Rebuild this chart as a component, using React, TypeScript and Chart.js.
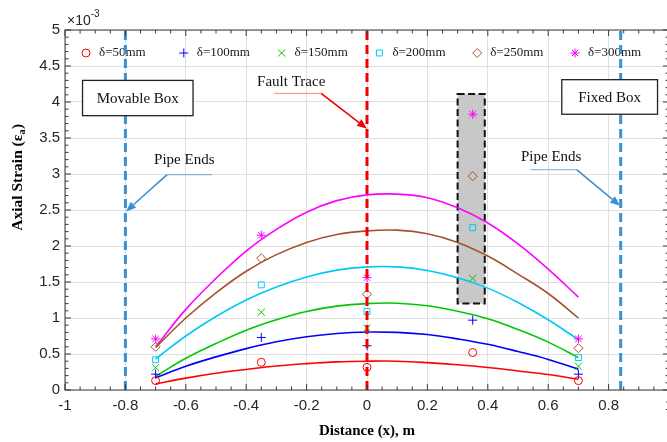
import React, { useEffect, useRef } from "react";
import { Chart, registerables } from "chart.js";
import { drawPoint } from "chart.js/helpers";

Chart.register(...registerables);

// ---------- data (strain values in units of 1e-3) ----------
const measX = [-0.7, -0.35, 0, 0.35, 0.7];
const curveX = [-0.7, -0.6, -0.5, -0.4, -0.3, -0.2, -0.1, 0, 0.1, 0.2, 0.3, 0.4, 0.5, 0.6, 0.7];

const seriesLabels = ["δ=50mm", "δ=100mm", "δ=150mm", "δ=200mm", "δ=250mm", "δ=300mm"];

const pts50 = [0.13, 0.385, 0.315, 0.52, 0.13];
const pts100 = [0.22, 0.73, 0.615, 0.97, 0.22];
const pts150 = [0.31, 1.08, 0.86, 1.55, 0.33];
const pts200 = [0.42, 1.46, 1.09, 2.255, 0.45];
const pts250 = [0.6, 1.83, 1.33, 2.97, 0.58];
const pts300 = [0.71, 2.15, 1.56, 3.83, 0.71];

const fit50 = [0.085, 0.165, 0.232, 0.285, 0.333, 0.366, 0.39, 0.4, 0.4, 0.38, 0.35, 0.312, 0.265, 0.215, 0.15];
const fit100 = [0.17, 0.33, 0.46, 0.575, 0.67, 0.74, 0.785, 0.805, 0.8, 0.77, 0.71, 0.635, 0.535, 0.425, 0.29];
const fit150 = [0.19, 0.44, 0.645, 0.83, 0.975, 1.09, 1.165, 1.2, 1.205, 1.17, 1.095, 0.99, 0.84, 0.665, 0.45];
const fit200 = [0.43, 0.75, 1.02, 1.25, 1.43, 1.57, 1.665, 1.71, 1.71, 1.66, 1.56, 1.415, 1.215, 0.975, 0.7];
const fit250 = [0.59, 1.0, 1.35, 1.65, 1.88, 2.05, 2.16, 2.21, 2.22, 2.17, 2.05, 1.86, 1.61, 1.34, 1.0];
const fit300 = [0.6, 1.12, 1.55, 1.93, 2.23, 2.47, 2.63, 2.71, 2.72, 2.67, 2.53, 2.32, 2.03, 1.68, 1.29];

const pipeEndLeft = -0.8;
const pipeEndRight = 0.84;
const faultX = 0;

const highlightX = [0.3, 0.39];
const highlightY = [1.2, 4.11];

const xTickRange = [-1, 1];
const yTickRange = [0, 5];

// ---------- styles ----------
const curveColors = [
  "rgb(255,0,0)",
  "rgb(0,0,255)",
  "rgb(0,200,0)",
  "rgb(0,200,245)",
  "rgb(165,82,45)",
  "rgb(255,0,255)",
];
const markerStyles = ["circle", "cross", "crossRot", "rect", "rectRot", "star"];
const markerRadii = [4, 4.5, 5, 4.2, 4.5, 4.5];
const pipeBlue = "rgb(55,145,215)";

const SERIF = '"Liberation Serif", "Times New Roman", serif';
const SANS = '"Liberation Sans", Arial, sans-serif';

// annotations in data coordinates
const textBoxes = [
  { x1: -0.942, x2: -0.576, y1: 3.81, y2: 4.3, text: "Movable Box" },
  { x1: 0.645, x2: 0.962, y1: 3.83, y2: 4.31, text: "Fixed Box" },
];
const callouts = [
  { text: "Fault Trace", tx: -0.251, ty: 4.28, u1: -0.307, u2: -0.152, uy: 4.12, from: -0.152, tipX: 0, tipY: 3.63, line: "rgb(255,130,130)", arrow: "rgb(240,0,0)" },
  { text: "Pipe Ends", tx: -0.605, ty: 3.19, u1: -0.662, u2: -0.512, uy: 2.99, from: -0.662, tipX: -0.798, tipY: 2.48, line: "rgb(110,170,230)", arrow: pipeBlue },
  { text: "Pipe Ends", tx: 0.61, ty: 3.23, u1: 0.542, u2: 0.694, uy: 3.06, from: 0.694, tipX: 0.838, tipY: 2.56, line: "rgb(110,170,230)", arrow: pipeBlue },
];
const yTitleCenterValue = 2.95;

function arrow(ctx: CanvasRenderingContext2D, x1: number, y1: number, x2: number, y2: number, color: string) {
  const ang = Math.atan2(y2 - y1, x2 - x1);
  const hl = 10, hw = 4;
  const bx = x2 - hl * Math.cos(ang), by = y2 - hl * Math.sin(ang);
  ctx.strokeStyle = color;
  ctx.fillStyle = color;
  ctx.lineWidth = 1.6;
  ctx.beginPath();
  ctx.moveTo(x1, y1);
  ctx.lineTo(bx, by);
  ctx.stroke();
  ctx.beginPath();
  ctx.moveTo(x2, y2);
  ctx.lineTo(bx + hw * Math.sin(ang), by - hw * Math.cos(ang));
  ctx.lineTo(bx - hw * Math.sin(ang), by + hw * Math.cos(ang));
  ctx.closePath();
  ctx.fill();
}

const fmt = (v: number) => String(Math.round(v * 100) / 100 + 0);

const decoPlugin = {
  id: "deco",
  beforeDatasetsDraw(chart: any) {
    const { ctx, chartArea: ca } = chart;
    const x = chart.scales.x, y = chart.scales.y;
    ctx.save();
    // highlighted region
    const bx1 = x.getPixelForValue(highlightX[0]);
    const bx2 = x.getPixelForValue(highlightX[1]);
    const by1 = y.getPixelForValue(highlightY[1]);
    const by2 = y.getPixelForValue(highlightY[0]);
    ctx.fillStyle = "rgb(200,200,200)";
    ctx.fillRect(bx1, by1, bx2 - bx1, by2 - by1);
    ctx.setLineDash([7, 3.5]);
    ctx.lineWidth = 2;
    ctx.strokeStyle = "#111";
    ctx.strokeRect(bx1, by1, bx2 - bx1, by2 - by1);
    ctx.setLineDash([]);
    // legend
    const ly = ca.top + 23;
    for (let i = 0; i < seriesLabels.length; i++) {
      const mx = ca.left + 21 + i * 97.8;
      ctx.strokeStyle = curveColors[i];
      ctx.fillStyle = "rgba(0,0,0,0)";
      ctx.lineWidth = 1;
      drawPoint(ctx, { pointStyle: markerStyles[i], radius: markerRadii[i], rotation: 0, borderWidth: 1 } as any, mx, ly);
      ctx.fillStyle = "#1a1a1a";
      ctx.font = `13px ${SERIF}`;
      ctx.textAlign = "left";
      ctx.textBaseline = "middle";
      ctx.fillText(seriesLabels[i], mx + 13, ly);
    }
    ctx.restore();
  },
  afterDatasetsDraw(chart: any) {
    const { ctx, chartArea: ca } = chart;
    const x = chart.scales.x, y = chart.scales.y;
    ctx.save();
    // text boxes
    for (const b of textBoxes) {
      const x1 = x.getPixelForValue(b.x1), x2 = x.getPixelForValue(b.x2);
      const y1 = y.getPixelForValue(b.y2), y2 = y.getPixelForValue(b.y1);
      ctx.fillStyle = "#fff";
      ctx.fillRect(x1, y1, x2 - x1, y2 - y1);
      ctx.strokeStyle = "#222";
      ctx.lineWidth = 1.3;
      ctx.strokeRect(x1, y1, x2 - x1, y2 - y1);
      ctx.fillStyle = "#111";
      ctx.font = `15px ${SERIF}`;
      ctx.textAlign = "center";
      ctx.textBaseline = "middle";
      ctx.fillText(b.text, (x1 + x2) / 2, (y1 + y2) / 2 + 1);
    }
    // callouts
    for (const c of callouts) {
      ctx.fillStyle = "#111";
      ctx.font = `15px ${SERIF}`;
      ctx.textAlign = "center";
      ctx.textBaseline = "middle";
      ctx.fillText(c.text, x.getPixelForValue(c.tx), y.getPixelForValue(c.ty));
      ctx.strokeStyle = c.line;
      ctx.lineWidth = 1;
      ctx.beginPath();
      ctx.moveTo(x.getPixelForValue(c.u1), y.getPixelForValue(c.uy));
      ctx.lineTo(x.getPixelForValue(c.u2), y.getPixelForValue(c.uy));
      ctx.stroke();
      arrow(ctx, x.getPixelForValue(c.from), y.getPixelForValue(c.uy), x.getPixelForValue(c.tipX), y.getPixelForValue(c.tipY), c.arrow);
    }
    // axes box and tick marks
    ctx.strokeStyle = "#3a3a3a";
    ctx.lineWidth = 1;
    ctx.strokeRect(ca.left, ca.top, ca.right - ca.left, ca.bottom - ca.top);
    ctx.beginPath();
    const nx = Math.round((xTickRange[1] - xTickRange[0]) / 0.05);
    for (let i = 0; i <= nx; i++) {
      const px = x.getPixelForValue(xTickRange[0] + i * 0.05);
      const len = i % 4 === 0 ? 6 : 3.5;
      ctx.moveTo(px, ca.bottom);
      ctx.lineTo(px, ca.bottom - len);
      ctx.moveTo(px, ca.top);
      ctx.lineTo(px, ca.top + len);
    }
    const ny = Math.round((yTickRange[1] - yTickRange[0]) / 0.1);
    for (let i = 0; i <= ny; i++) {
      const py = y.getPixelForValue(yTickRange[0] + i * 0.1);
      const len = i % 5 === 0 ? 6 : 3.5;
      ctx.moveTo(ca.left, py);
      ctx.lineTo(ca.left + len, py);
      ctx.moveTo(ca.right, py);
      ctx.lineTo(ca.right - len, py);
    }
    ctx.stroke();
    // exponent label
    ctx.fillStyle = "#262626";
    ctx.textAlign = "left";
    ctx.textBaseline = "alphabetic";
    ctx.font = `14px ${SANS}`;
    ctx.fillText("×10", ca.left + 2, ca.top - 5);
    const w = ctx.measureText("×10").width;
    ctx.font = `10px ${SANS}`;
    ctx.fillText("-3", ca.left + 2 + w, ca.top - 13);
    // y-axis title with subscript
    ctx.translate(18, y.getPixelForValue(yTitleCenterValue));
    ctx.rotate(-Math.PI / 2);
    ctx.fillStyle = "#000";
    ctx.textBaseline = "middle";
    const main = "Axial Strain (ε";
    const sub = "a";
    const close = ")";
    ctx.font = `bold 15.5px ${SERIF}`;
    const w1 = ctx.measureText(main).width;
    const w3 = ctx.measureText(close).width;
    ctx.font = `bold 10px ${SERIF}`;
    const w2 = ctx.measureText(sub).width;
    const sx = -(w1 + w2 + w3) / 2;
    ctx.font = `bold 15.5px ${SERIF}`;
    ctx.fillText(main, sx, 0);
    ctx.font = `bold 10px ${SERIF}`;
    ctx.fillText(sub, sx + w1, 4);
    ctx.font = `bold 15.5px ${SERIF}`;
    ctx.fillText(close, sx + w1 + w2 + 0.5, 0);
    ctx.restore();
  },
};

export default function App() {
  const ref = useRef<HTMLCanvasElement | null>(null);

  useEffect(() => {
    const canvas = ref.current;
    if (!canvas) return;
    const fits = [fit50, fit100, fit150, fit200, fit250, fit300];
    const pts = [pts50, pts100, pts150, pts200, pts250, pts300];

    const curveSets = fits.map((f, i) => ({
      label: seriesLabels[i] + " fit",
      data: curveX.map((xv, j) => ({ x: xv, y: f[j] })),
      showLine: true,
      borderColor: curveColors[i],
      backgroundColor: curveColors[i],
      borderWidth: 1.6,
      pointRadius: 0,
      tension: 0.4,
      fill: false,
      order: 3,
    }));
    const markerSets = pts.map((p, i) => ({
      label: seriesLabels[i],
      data: measX.map((xv, j) => ({ x: xv, y: p[j] })),
      showLine: false,
      pointStyle: markerStyles[i],
      pointRadius: markerRadii[i],
      pointBorderWidth: 1,
      pointBorderColor: curveColors[i],
      pointBackgroundColor: "rgba(0,0,0,0)",
      order: 2,
    }));
    const vline = (xv: number, color: string, order: number) => ({
      label: "line",
      data: [
        { x: xv, y: yTickRange[0] },
        { x: xv, y: yTickRange[1] },
      ],
      showLine: true,
      borderColor: color,
      borderWidth: 3,
      borderDash: [9, 5],
      pointRadius: 0,
      order,
    });

    const chart = new Chart(canvas, {
      type: "scatter",
      data: {
        datasets: [
          ...curveSets,
          ...markerSets,
          vline(pipeEndLeft, pipeBlue, 1),
          vline(pipeEndRight, pipeBlue, 1),
          vline(faultX, "rgb(240,0,0)", 0),
        ] as any,
      },
      options: {
        responsive: false,
        animation: false,
        devicePixelRatio: 1,
        layout: { padding: { top: 30, right: 31, left: 0, bottom: 0 } },
        plugins: { legend: { display: false }, tooltip: { enabled: false } },
        scales: {
          x: {
            type: "linear",
            min: xTickRange[0],
            max: xTickRange[1],
            afterFit: (s: any) => {
              s.height = 52;
            },
            ticks: {
              stepSize: 0.2,
              font: { family: SANS, size: 15 },
              color: "#262626",
              padding: 7,
              maxRotation: 0,
              autoSkip: false,
              callback: (v: any) => fmt(Number(v)),
            },
            grid: { color: "rgb(224,224,224)", drawTicks: false, lineWidth: 1 },
            border: { display: false },
            title: {
              display: true,
              text: "Distance (x), m",
              font: { family: SERIF, size: 15, weight: "bold" },
              color: "#000",
              padding: { top: 0, bottom: 2 },
            },
          },
          y: {
            type: "linear",
            min: yTickRange[0],
            max: yTickRange[1],
            afterFit: (s: any) => {
              s.width = 65;
            },
            ticks: {
              stepSize: 0.5,
              font: { family: SANS, size: 15 },
              color: "#262626",
              padding: 5,
              callback: (v: any) => fmt(Number(v)),
            },
            grid: { color: "rgb(224,224,224)", drawTicks: false, lineWidth: 1 },
            border: { display: false },
          },
        },
      } as any,
      plugins: [decoPlugin],
    });
    return () => chart.destroy();
  }, []);

  return (
    <div
      style={{
        position: "absolute",
        left: 0,
        top: 0,
        width: 667,
        height: 442,
        overflow: "hidden",
        background: "#fff",
      }}
    >
      <canvas ref={ref} width={700} height={442} style={{ display: "block", width: 700, height: 442 }} />
    </div>
  );
}
